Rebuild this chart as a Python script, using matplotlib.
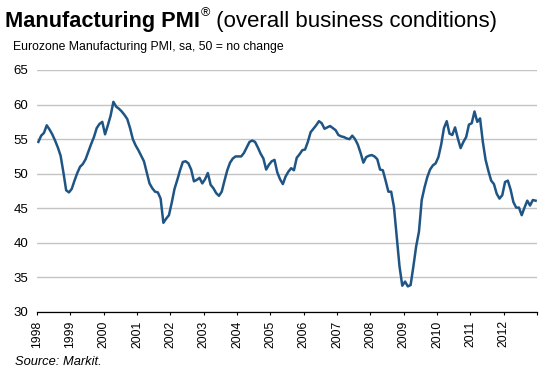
import numpy as np
import matplotlib.pyplot as plt

plt.rcParams['font.family'] = ['Liberation Sans', 'DejaVu Sans']

# monthly Eurozone manufacturing PMI
pmi_1998 = [54.6, 55.5, 55.9, 57.0, 56.4, 55.7, 54.8, 53.8, 52.6, 50.2, 47.6, 47.3]
pmi_1999 = [47.8, 49.0, 50.1, 51.0, 51.4, 52.1, 53.2, 54.3, 55.3, 56.6, 57.2, 57.5]
pmi_2000 = [55.7, 57.0, 58.4, 60.4, 59.7, 59.4, 59.0, 58.5, 57.9, 56.6, 55.0, 54.1]
pmi_2001 = [53.4, 52.6, 51.8, 50.2, 48.6, 47.9, 47.4, 47.3, 46.4, 42.9, 43.5, 44.0]
pmi_2002 = [45.8, 47.8, 49.1, 50.5, 51.7, 51.8, 51.5, 50.6, 48.9, 49.1, 49.4, 48.6]
pmi_2003 = [49.2, 50.1, 48.4, 47.9, 47.2, 46.8, 47.4, 49.0, 50.5, 51.6, 52.2, 52.5]
pmi_2004 = [52.5, 52.5, 53.0, 53.8, 54.6, 54.8, 54.6, 53.8, 52.9, 52.2, 50.6, 51.3]
pmi_2005 = [51.8, 52.0, 50.2, 49.2, 48.5, 49.6, 50.3, 50.8, 50.5, 52.3, 52.8, 53.4]
pmi_2006 = [53.5, 54.6, 56.0, 56.5, 57.0, 57.6, 57.3, 56.5, 56.7, 56.9, 56.6, 56.3]
pmi_2007 = [55.6, 55.4, 55.3, 55.1, 55.0, 55.5, 55.0, 54.2, 53.0, 51.6, 52.4, 52.6]
pmi_2008 = [52.7, 52.5, 52.1, 50.6, 50.5, 49.0, 47.4, 47.4, 45.2, 40.9, 36.6, 33.8]
pmi_2009 = [34.4, 33.7, 33.9, 36.6, 39.5, 41.6, 46.2, 48.0, 49.5, 50.6, 51.2, 51.5]
pmi_2010 = [52.4, 54.2, 56.6, 57.6, 55.8, 55.6, 56.7, 55.1, 53.7, 54.6, 55.3, 57.1]
pmi_2011 = [57.3, 59.0, 57.5, 58.0, 54.6, 52.0, 50.4, 49.0, 48.5, 47.1, 46.4, 46.9]
pmi_2012 = [48.8, 49.0, 47.7, 45.9, 45.1, 45.1, 44.0, 45.1, 46.1, 45.4, 46.2, 46.1]

years = list(range(1998, 2013))
y_ticks = [30, 35, 40, 45, 50, 55, 60, 65]

pmi = np.array(pmi_1998 + pmi_1999 + pmi_2000 + pmi_2001 + pmi_2002 + pmi_2003 +
               pmi_2004 + pmi_2005 + pmi_2006 + pmi_2007 + pmi_2008 + pmi_2009 +
               pmi_2010 + pmi_2011 + pmi_2012)
# mid-month positions
dates = years[0] + (np.arange(len(pmi)) + 0.5) / 12

W, H = 551, 373
fig = plt.figure(figsize=(W / 100, H / 100), dpi=100)
ax = fig.add_axes([37 / W, 1 - 312 / H, 500 / W, 242 / H])

ax.plot(dates, pmi, color='#1f5585', lw=1.8, solid_joinstyle='round', zorder=3)

ax.set_xlim(1998, 2013)
ax.set_ylim(30, 65)
ax.set_yticks(y_ticks)
ax.set_xticks(years + [2013])
ax.set_xticklabels([str(y) for y in years] + [''], rotation=90)

ax.yaxis.grid(True, color='#c4c4c4', lw=1.0)
ax.set_axisbelow(True)
for s in ['top', 'right', 'left']:
    ax.spines[s].set_visible(False)
ax.spines['bottom'].set_color('black')
ax.spines['bottom'].set_linewidth(0.9)
ax.spines['bottom'].set_zorder(4)

ax.tick_params(axis='y', length=0, pad=6.5, labelsize=9.5)
ax.tick_params(axis='x', direction='out', length=2.5, width=0.8, pad=3.5, labelsize=8.8)

# title, pieced together
t1 = fig.text(5 / W, 1 - 27 / H, 'Manufacturing PMI', weight='bold', size=15.7, va='baseline')
fig.canvas.draw()
bb = t1.get_window_extent()
t2 = fig.text((bb.x1 + 1) / W, 1 - 16 / H, '®', size=9, va='baseline')
fig.canvas.draw()
bb2 = t2.get_window_extent()
fig.text(bb2.x1 / W, 1 - 27 / H, ' (overall business conditions)', size=16, va='baseline')

fig.text(13 / W, 1 - 50 / H, 'Eurozone Manufacturing PMI, sa, 50 = no change', size=8.8, va='baseline')
fig.text(15 / W, 1 - 365 / H, 'Source: Markit.', size=9.3, style='italic', va='baseline')

fig.savefig('out.png', dpi=100)
